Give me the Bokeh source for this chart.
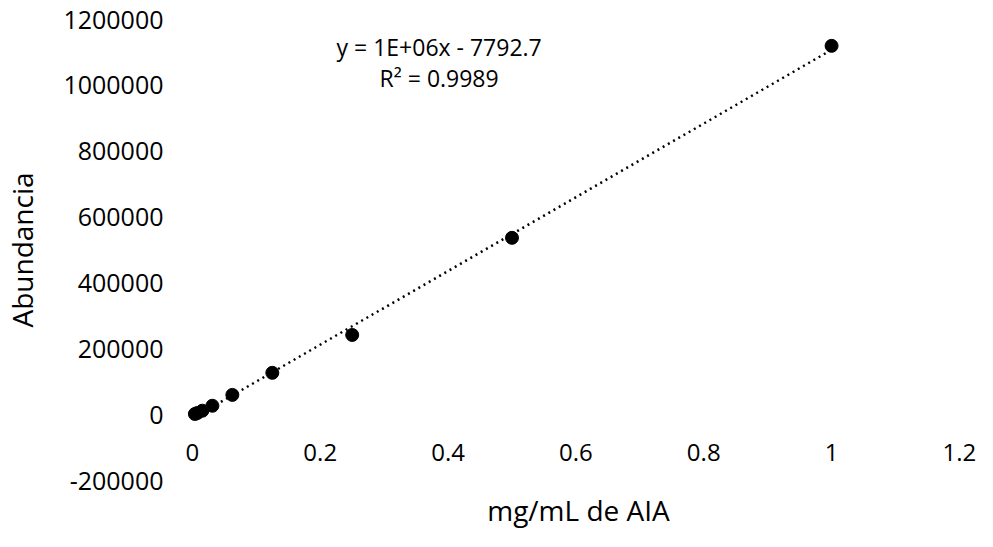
import numpy as np
from bokeh.plotting import figure
from bokeh.models import (Range1d, FixedTicker, LabelSet, Label,
                          ColumnDataSource, NumeralTickFormatter)
from bokeh.core.properties import value
from bokeh.embed import file_html
from bokeh.resources import INLINE

# ---- data ----
conc = [0.0039, 0.0078, 0.0156, 0.03125, 0.0625, 0.125, 0.25, 0.5, 1.0]
abund = [2000, 5000, 12000, 27000, 60000, 127000, 242000, 537000, 1120000]
x_ticks = [0, 0.2, 0.4, 0.6, 0.8, 1.0, 1.2]
x_tick_labels = ["0", "0.2", "0.4", "0.6", "0.8", "1", "1.2"]
y_ticks = [-200000, 0, 200000, 400000, 600000, 800000, 1000000, 1200000]
eq_text = "y = 1E+06x - 7792.7"
r2_text = "R² = 0.9989"
x_title = "mg/mL de AIA"
y_title = "Abundancia"

FONT = "Open Sans"

p = figure(width=977, height=531, output_backend="svg", toolbar_location=None,
           x_range=Range1d(-0.0202, 1.2283), y_range=Range1d(-200000, 1200000),
           min_border_left=173, min_border_right=0, min_border_top=19,
           min_border_bottom=48)
p.outline_line_color = None
p.grid.visible = False
p.background_fill_color = "white"
p.border_fill_color = "white"

# y axis
yax = p.yaxis[0]
yax.ticker = FixedTicker(ticks=y_ticks)
yax.formatter = NumeralTickFormatter(format="0")
yax.axis_line_color = None
yax.major_tick_line_color = None
yax.minor_tick_line_color = None
yax.major_tick_out = 0
yax.major_tick_in = 0
yax.minor_tick_out = 0
yax.major_label_standoff = 16
yax.major_label_text_font = FONT
yax.major_label_text_font_size = "25px"
yax.major_label_text_color = "black"
yax.axis_label = y_title
yax.axis_label_text_font = FONT
yax.axis_label_text_font_style = "normal"
yax.axis_label_text_font_size = "28px"
yax.axis_label_text_color = "black"
yax.axis_label_standoff = 19

# x axis (tick labels drawn at y = 0, like the reference)
xax = p.xaxis[0]
xax.ticker = FixedTicker(ticks=[])
xax.axis_line_color = None
xax.major_tick_line_color = None
xax.minor_tick_line_color = None
xax.major_tick_out = 0
xax.major_tick_in = 0
xax.minor_tick_out = 0
xax.major_label_standoff = 0
xax.axis_label = x_title
xax.axis_label_text_font = FONT
xax.axis_label_text_font_style = "normal"
xax.axis_label_text_font_size = "28px"
xax.axis_label_text_color = "black"
xax.axis_label_standoff = 10

tick_src = ColumnDataSource(dict(x=x_ticks, y=[0] * len(x_ticks), t=x_tick_labels))
p.add_layout(LabelSet(x="x", y="y", text="t", source=tick_src, y_offset=-38,
                      text_align="center", text_baseline="middle",
                      text_font=value(FONT), text_font_size=value("24px"),
                      text_color="black"))

# trendline (least squares fit of the data)
slope, intercept = np.polyfit(conc, abund, 1)
xs = [min(conc), max(conc)]
ys = [slope * v + intercept for v in xs]
p.line(xs, ys, line_color="black", line_width=2.5, line_dash="2 4")

# points
p.scatter(conc, abund, size=13, color="black")

# equation
p.add_layout(Label(x=0.386, y=1116000, text=eq_text, text_align="center",
                   text_baseline="middle", text_font=FONT, text_font_size="23px",
                   text_color="black"))
p.add_layout(Label(x=0.386, y=1023000, text=r2_text, text_align="center",
                   text_baseline="middle", text_font=FONT, text_font_size="23px",
                   text_color="black"))

open("out.html", "w").write(file_html(p, INLINE))
